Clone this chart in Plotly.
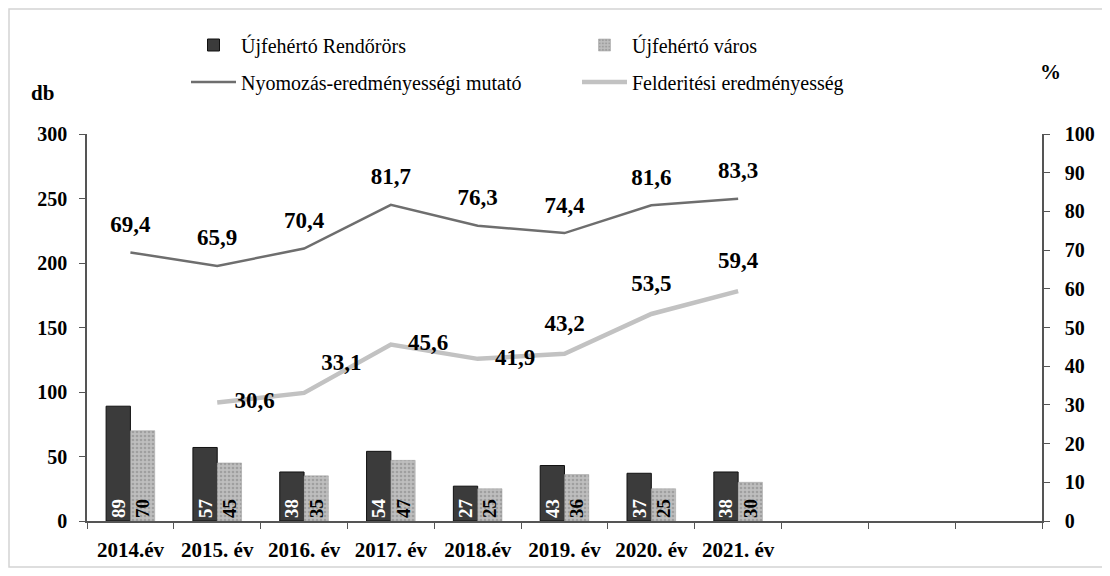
import plotly.graph_objects as go

# ---- data ----
categories = ["2014.év", "2015. év", "2016. év", "2017. év", "2018.év", "2019. év", "2020. év", "2021. év"]
extra_categories = [" ", "  ", "   "]
rendorors = [89, 57, 38, 54, 27, 43, 37, 38]
varos = [70, 45, 35, 47, 25, 36, 25, 30]
nyomozas = [69.4, 65.9, 70.4, 81.7, 76.3, 74.4, 81.6, 83.3]
felderitesi = [None, 30.6, 33.1, 45.6, 41.9, 43.2, 53.5, 59.4]

left_ticks = [0, 50, 100, 150, 200, 250, 300]
right_ticks = [0, 10, 20, 30, 40, 50, 60, 70, 80, 90, 100]

all_cats = categories + extra_categories
pad = [None] * len(extra_categories)

def fmt(v):
    return "" if v is None else f"{v:.1f}".replace(".", ",")

SERIF = "Liberation Serif"

# page body has an 8px margin: work in screen pixels and convert
OFF = 8
W, H = 1110 - OFF, 576 - OFF
L = 87 - OFF
T = 134 - OFF
R = W - (1042 - OFF)
B = H - (521 - OFF)
PW, PH = W - L - R, H - T - B

def px_x(p):
    return (p - OFF - L) / PW

def px_y(p):
    return (H - B - (p - OFF)) / PH

fig = go.Figure()

fig.add_trace(go.Bar(
    x=all_cats, y=rendorors + pad, name="Újfehértó Rendőrörs",
    marker=dict(color="#3b3b3b", line=dict(color="#111111", width=1)),
    text=[str(v) for v in rendorors] + [""] * len(pad),
    textposition="inside", insidetextanchor="start", textangle=-90,
    textfont=dict(family=SERIF, size=19, color="white", weight="bold"),
    constraintext="none", cliponaxis=False,
    legend="legend", yaxis="y",
))
fig.add_trace(go.Bar(
    x=all_cats, y=varos + pad, name="Újfehértó város",
    marker=dict(color="#b4b4b4", line=dict(color="#9a9a9a", width=0.5),
                pattern=dict(shape=".", fgcolor="#808080", bgcolor="#bebebe", size=4, solidity=0.35)),
    text=[str(v) for v in varos] + [""] * len(pad),
    textposition="inside", insidetextanchor="start", textangle=-90,
    textfont=dict(family=SERIF, size=19, color="black", weight="bold"),
    constraintext="none", cliponaxis=False,
    legend="legend", yaxis="y",
))

label_font = dict(family=SERIF, size=23, color="black", weight="bold")

fig.add_trace(go.Scatter(
    x=categories, y=nyomozas, name="Nyomozás-eredményességi mutató",
    mode="lines+markers+text", line=dict(color="#6e6e6e", width=2.5),
    marker=dict(size=22, color="rgba(0,0,0,0)"),
    text=[fmt(v) for v in nyomozas],
    textposition="top center",
    textfont=label_font,
    yaxis="y2", legend="legend2", cliponaxis=False, hoverinfo="x+y",
))
fig.add_trace(go.Scatter(
    x=categories, y=felderitesi, name="Felderitési eredményesség",
    mode="lines+markers+text", line=dict(color="#c2c2c2", width=4.5),
    marker=dict(size=26, color="rgba(0,0,0,0)"),
    text=[fmt(v) for v in felderitesi],
    textposition=["top center", "middle right", "top right", "middle right",
                  "middle right", "top center", "top center", "top center"],
    textfont=label_font,
    yaxis="y2", legend="legend2", cliponaxis=False, hoverinfo="x+y",
))

tickfont = dict(family=SERIF, size=20, color="black", weight="bold")
xtickfont = dict(family=SERIF, size=21, color="black", weight="bold")
legend_font = dict(family=SERIF, size=20, color="black")
title_font = dict(family=SERIF, size=21, color="black", weight="bold")

fig.update_layout(
    width=W, height=H,
    margin=dict(l=L, r=R, t=T, b=B, autoexpand=False),
    paper_bgcolor="white", plot_bgcolor="white",
    barmode="group", bargap=0.44, bargroupgap=0.0,
    xaxis=dict(
        type="category", categoryorder="array", categoryarray=all_cats,
        range=[-0.5, len(all_cats) - 0.5],
        showline=True, linecolor="#555555", linewidth=1.5,
        ticks="outside", tickson="boundaries", ticklen=6, tickcolor="#555555",
        tickfont=xtickfont, ticklabelstandoff=9, showgrid=False, zeroline=False,
    ),
    yaxis=dict(
        range=[0, 300], tickvals=left_ticks, showline=True, linecolor="#555555", linewidth=1.5,
        ticks="outside", ticklen=6, tickcolor="#555555", tickfont=tickfont,
        showgrid=False, zeroline=False, ticklabelstandoff=8,
    ),
    yaxis2=dict(
        range=[0, 100], tickvals=right_ticks, overlaying="y", side="right",
        showline=True, linecolor="#555555", linewidth=1.5,
        ticks="outside", ticklen=6, tickcolor="#555555", tickfont=tickfont,
        showgrid=False, zeroline=False, ticklabelstandoff=11,
    ),
    legend=dict(
        orientation="h", x=px_x(186), y=px_y(45), xanchor="left", yanchor="middle",
        font=legend_font, entrywidth=331, itemwidth=45,
        bgcolor="rgba(0,0,0,0)", traceorder="normal",
    ),
    legend2=dict(
        orientation="h", x=px_x(186), y=px_y(82), xanchor="left", yanchor="middle",
        font=legend_font, entrywidth=331, itemwidth=45,
        bgcolor="rgba(0,0,0,0)", traceorder="normal",
    ),
    annotations=[
        dict(text="db", x=px_x(42), y=px_y(93), xref="paper", yref="paper",
             xanchor="center", yanchor="middle", showarrow=False, font=title_font),
        dict(text="%", x=px_x(1050), y=px_y(72), xref="paper", yref="paper",
             xanchor="center", yanchor="middle", showarrow=False, font=title_font),
    ],
    shapes=[
        dict(type="rect", xref="paper", yref="paper",
             x0=px_x(9), x1=px_x(1108), y0=px_y(567), y1=px_y(9),
             line=dict(color="#d4d4d4", width=1.5), layer="below"),
    ],
)

fig.write_html("out.html")
